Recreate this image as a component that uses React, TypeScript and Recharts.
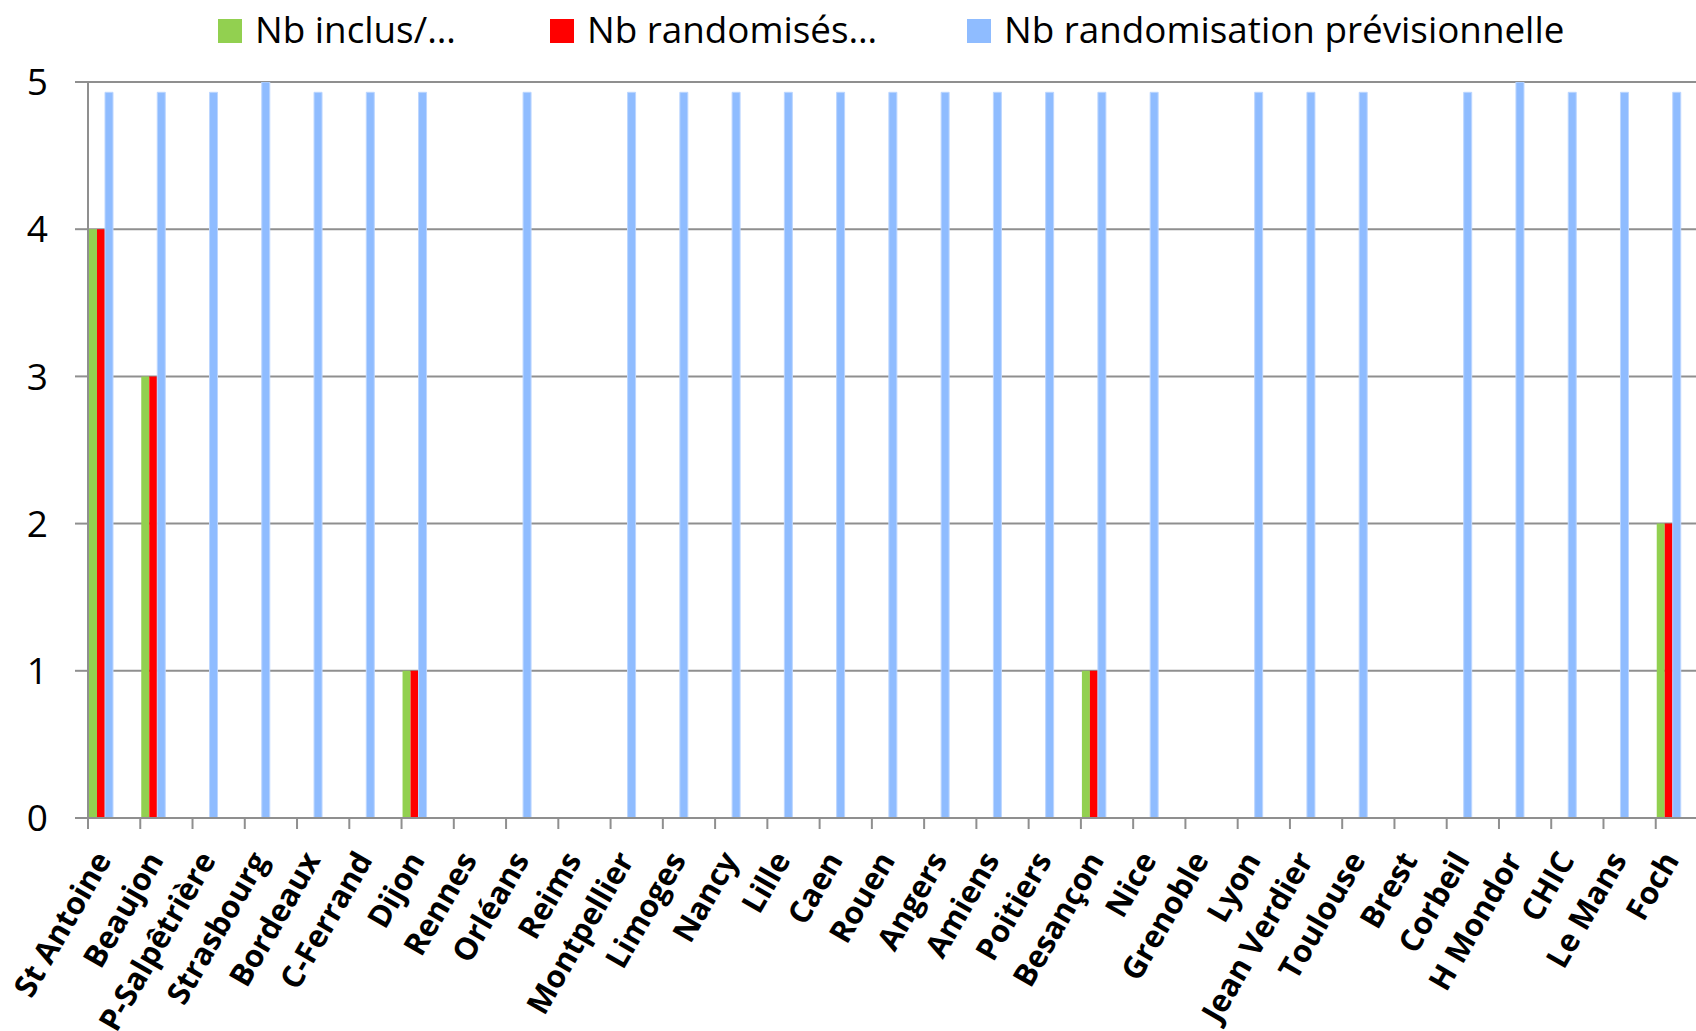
import React from 'react'
import { BarChart, Bar, XAxis, YAxis, CartesianGrid } from 'recharts'

const cities = [
  'St Antoine', 'Beaujon', 'P-Salpêtrière', 'Strasbourg', 'Bordeaux', 'C-Ferrand', 'Dijon',
  'Rennes', 'Orléans', 'Reims', 'Montpellier', 'Limoges', 'Nancy', 'Lille', 'Caen', 'Rouen',
  'Angers', 'Amiens', 'Poitiers', 'Besançon', 'Nice', 'Grenoble', 'Lyon', 'Jean Verdier',
  'Toulouse', 'Brest', 'Corbeil', 'H Mondor', 'CHIC', 'Le Mans', 'Foch'
]

const inclus = [4, 3, 0, 0, 0, 0, 1, 0, 0, 0, 0, 0, 0, 0, 0, 0, 0, 0, 0, 1, 0, 0, 0, 0, 0, 0, 0, 0, 0, 0, 2]
const randomises = [4, 3, 0, 0, 0, 0, 1, 0, 0, 0, 0, 0, 0, 0, 0, 0, 0, 0, 0, 1, 0, 0, 0, 0, 0, 0, 0, 0, 0, 0, 2]
const previsionnelle = [
  4.93, 4.93, 4.93, 5, 4.93, 4.93, 4.93, 0, 4.93, 0, 4.93, 4.93, 4.93, 4.93, 4.93, 4.93,
  4.93, 4.93, 4.93, 4.93, 4.93, 0, 4.93, 4.93, 4.93, 0, 4.93, 5, 4.93, 4.93, 4.93
]
const yTicks = [0, 1, 2, 3, 4, 5]

const legendItems = [
  { label: 'Nb inclus/…', color: '#92D050', x: 218 },
  { label: 'Nb randomisés…', color: '#FF0000', x: 550 },
  { label: 'Nb randomisation prévisionnelle', color: '#8FBCFF', x: 967 },
]

const data = cities.map((name, i) => ({
  name,
  inclus: inclus[i],
  randomises: randomises[i],
  previsionnelle: previsionnelle[i],
}))

const CHART_W = 1720
const CHART_H = 1031
const MARGIN = { top: 82, right: 12, left: 0, bottom: 0 }
const Y_W = 88
const X_H = 213
const BAND = (CHART_W - MARGIN.left - MARGIN.right - Y_W) / cities.length
const FONT = '"Open Sans", "Noto Sans", sans-serif'
const GRAY = '#8f8f8f'

function CityTick(props: any) {
  const { x, y, payload } = props
  const bx = x - BAND / 2
  return (
    <g>
      <line x1={bx} x2={bx} y1={y} y2={y + 11} stroke={GRAY} strokeWidth={2} />
      <text
        transform={`translate(${x - 2},${y + 42}) rotate(-60)`}
        textAnchor="end"
        fontFamily={FONT}
        fontWeight={700}
        fontSize={31}
        fill="#000"
      >
        {payload.value}
      </text>
    </g>
  )
}

export default function App() {
  return (
    <div style={{ position: 'fixed', left: 0, top: 0, width: 1696, height: 1031, overflow: 'hidden', background: '#fff' }}>
      <svg width={1696} height={70} style={{ position: 'absolute', left: 0, top: 0 }}>
        {legendItems.map((it) => (
          <g key={it.label}>
            <rect x={it.x} y={19} width={24} height={24} fill={it.color} />
            <text x={it.x + 37} y={43} fontFamily={FONT} fontSize={36.8} fill="#000">{it.label}</text>
          </g>
        ))}
      </svg>
      <div style={{ position: 'absolute', left: 0, top: 0 }}>
        <BarChart width={CHART_W} height={CHART_H} data={data} margin={MARGIN} barCategoryGap={1} barGap={0}>
          <CartesianGrid horizontal vertical={false} stroke={GRAY} strokeWidth={2} />
          <XAxis
            dataKey="name"
            interval={0}
            height={X_H}
            tickSize={0}
            tickMargin={0}
            tick={<CityTick />}
            axisLine={{ stroke: GRAY, strokeWidth: 2 }}
            tickLine={false}
          />
          <YAxis
            domain={[0, 5]}
            ticks={yTicks}
            allowDataOverflow
            width={Y_W}
            tickSize={13}
            tickMargin={27}
            tickLine={{ stroke: GRAY, strokeWidth: 2 }}
            axisLine={{ stroke: GRAY, strokeWidth: 2 }}
            tick={{ fontFamily: FONT, fontSize: 37, fill: '#000' }}
          />
          <Bar dataKey="inclus" fill="#92D050" isAnimationActive={false} />
          <Bar dataKey="randomises" fill="#FF0000" isAnimationActive={false} />
          <Bar dataKey="previsionnelle" fill="#8FBCFF" stroke="#BCD6FF" strokeWidth={1} isAnimationActive={false} />
          <Bar dataKey="vide1" legendType="none" isAnimationActive={false} />
          <Bar dataKey="vide2" legendType="none" isAnimationActive={false} />
          <Bar dataKey="vide3" legendType="none" isAnimationActive={false} />
        </BarChart>
      </div>
    </div>
  )
}
